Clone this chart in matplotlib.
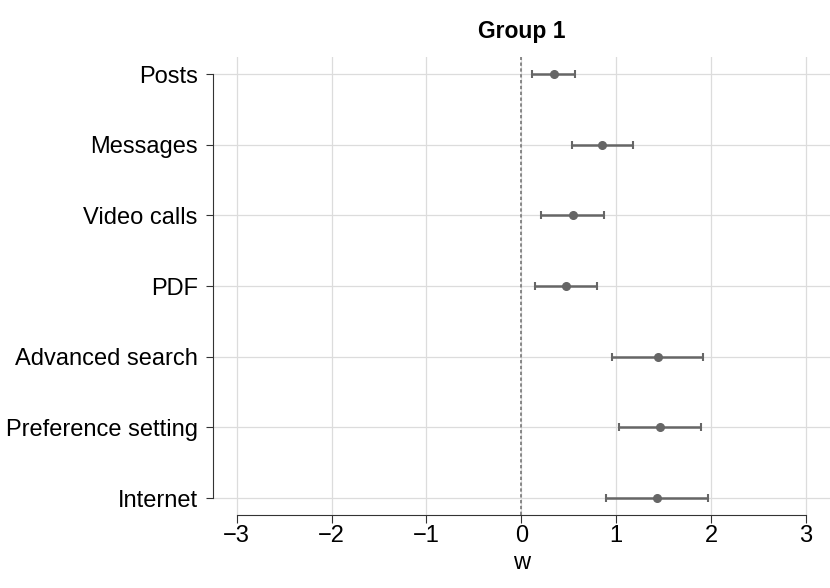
import matplotlib.pyplot as plt
import numpy as np

plt.rcParams["font.family"] = ["Liberation Sans", "DejaVu Sans"]

labels = ["Posts", "Messages", "Video calls", "PDF",
          "Advanced search", "Preference setting", "Internet"]
est = [0.34, 0.85, 0.54, 0.47, 1.44, 1.46, 1.43]
lower = [0.11, 0.53, 0.21, 0.14, 0.96, 1.03, 0.89]
upper = [0.57, 1.18, 0.87, 0.80, 1.91, 1.89, 1.97]

y = np.arange(len(labels))[::-1]
est = np.array(est)
err = [est - np.array(lower), np.array(upper) - est]

fig = plt.figure(figsize=(8.3, 5.88), dpi=100)
ax = fig.add_axes([0.2566, 0.124, 0.743, 0.779])

ax.grid(True, color="#dcdcdc", linewidth=0.9)
ax.set_axisbelow(True)
ax.axvline(0, color="#777777", linestyle=(0, (2, 1.5)), linewidth=1.2, zorder=2)

ax.errorbar(est, y, xerr=err, fmt="o", color="#666666", ecolor="#666666",
            markersize=5.5, elinewidth=1.8, capsize=3, capthick=1.5, zorder=3)

ax.set_xlim(-3.25, 3.25)
ax.set_ylim(-0.24, len(labels) - 1 + 0.24)
ax.set_xticks([-3, -2, -1, 0, 1, 2, 3])
ax.set_xticklabels(["\u22123", "\u22122", "\u22121", "0", "1", "2", "3"])
ax.set_yticks(y)
ax.set_yticklabels(labels)

for s in ["top", "right"]:
    ax.spines[s].set_visible(False)
ax.spines["left"].set_bounds(0, len(labels) - 1)
ax.spines["bottom"].set_bounds(-3, 3)
ax.spines["left"].set_color("#333333")
ax.spines["bottom"].set_color("#333333")

ax.tick_params(axis="x", labelsize=17, length=6, color="#333333", pad=1)
ax.tick_params(axis="y", labelsize=17, length=5, color="#333333", pad=6)

ax.set_xlabel("w", fontsize=17, labelpad=4)
ax.set_title("Group 1", fontsize=16.5, fontweight="bold", pad=14)

fig.savefig("out.png", dpi=100)
